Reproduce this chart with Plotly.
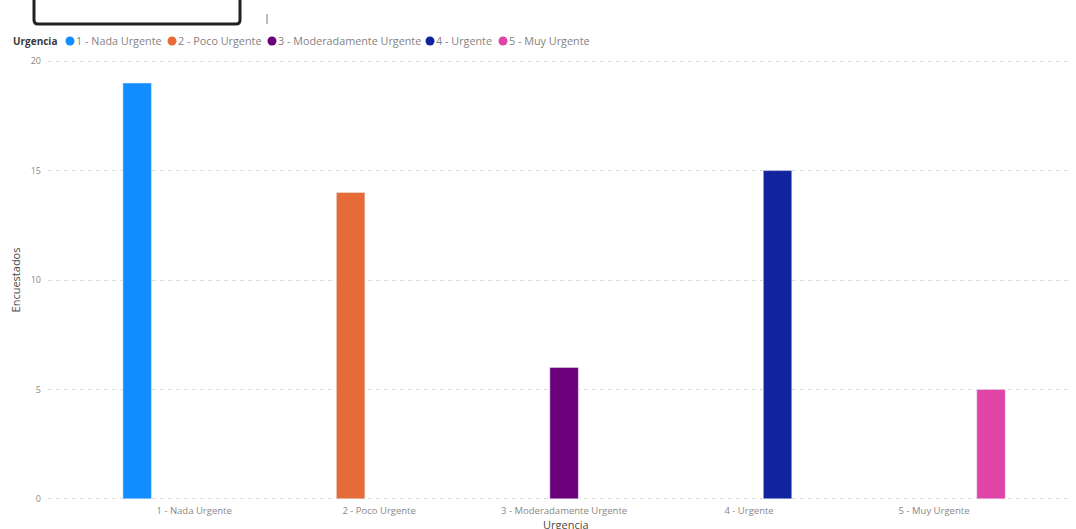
import plotly.graph_objects as go

categories = ["1 - Nada Urgente", "2 - Poco Urgente", "3 - Moderadamente Urgente", "4 - Urgente", "5 - Muy Urgente"]
values = [19, 14, 6, 15, 5]
colors = ["#118DFF", "#E66C37", "#6B007B", "#12239E", "#E044A7"]
y_ticks = [0, 5, 10, 15, 20]
legend_title = "Urgencia"
x_title = "Urgencia"
y_title = "Encuestados"

FONT = "Segoe UI, Open Sans, sans-serif"

fig = go.Figure()
for i, cat in enumerate(categories):
    yv = [values[i] if j == i else None for j in range(len(categories))]
    fig.add_trace(go.Bar(x=categories, y=yv, name=cat, marker_color=colors[i],
                         showlegend=False))

W, H = 1076, 529
ml, mr, mt, mb = 48, 6, 59, 28
pw, ph = W - ml - mr, H - mt - mb

def px(x):
    return (x - ml) / pw

def py(y):
    return (H - mb - y) / ph

shapes = [
    dict(type="path", xref="paper", yref="paper",
         path=(f"M {px(34)} {py(-3)} L {px(34)} {py(20)} Q {px(34)} {py(24)} {px(38)} {py(24)} "
               f"L {px(236)} {py(24)} Q {px(240)} {py(24)} {px(240)} {py(20)} L {px(240)} {py(-3)}"),
         line=dict(color="#222222", width=3)),
    dict(type="line", xref="paper", yref="paper", x0=px(267), x1=px(267), y0=py(14), y1=py(24),
         line=dict(color="#777777", width=1)),
]

# Legend drawn as markers + text in the top margin (Power BI style compact legend)
annotations = [dict(text=f"<b>{legend_title}</b>", xref="paper", yref="paper",
                    x=px(11), y=py(41), xanchor="left", yanchor="middle", showarrow=False,
                    font=dict(size=10, color="#3B3A39", family=FONT))]
leg_circle_x = [70, 172, 272, 430, 503]
for i, cat in enumerate(categories):
    cx = leg_circle_x[i]
    shapes.append(dict(type="circle", xref="paper", yref="paper",
                       x0=px(cx - 4.5), x1=px(cx + 4.5), y0=py(41 + 4.5), y1=py(41 - 4.5),
                       fillcolor=colors[i], line=dict(width=0)))
    annotations.append(dict(text=cat, xref="paper", yref="paper", x=px(cx + 4), y=py(41),
                            xanchor="left", yanchor="middle", showarrow=False,
                            font=dict(size=10.8, color="#858382", family=FONT)))

# x axis title (Power BI places it slightly right of centre)
annotations.append(dict(text=x_title, xref="paper", yref="paper", x=px(566), y=py(524),
                        xanchor="center", yanchor="middle", showarrow=False,
                        font=dict(size=11, color="#4B4A49", family=FONT)))

fig.update_layout(
    width=W, height=H,
    margin=dict(l=ml, r=mr, t=mt, b=mb, autoexpand=False),
    paper_bgcolor="white", plot_bgcolor="white",
    barmode="group", bargap=0.23, bargroupgap=0,
    font=dict(family=FONT, size=10, color="#605E5C"),
    showlegend=False,
    xaxis=dict(type="category", range=[-0.79, 4.735], showgrid=False, zeroline=False,
               showline=False, ticks="", automargin=False, ticklabelstandoff=2,
               tickfont=dict(size=9.5, color="#8A8886")),
    yaxis=dict(range=[-0.1, 20.1], tickvals=y_ticks, showgrid=True, gridcolor="#CFCFCF",
               griddash="1.5px,1px,1.5px,4px", gridwidth=1, zeroline=False, showline=False,
               automargin=False, tickfont=dict(size=9, color="#8A8886"), ticklabelstandoff=6,
               title=dict(text=y_title, font=dict(size=11, color="#4B4A49"), standoff=7)),
    shapes=shapes,
    annotations=annotations,
)

fig.write_html("out.html", config={"displayModeBar": False},
               post_script="document.body.style.margin='0px';")
